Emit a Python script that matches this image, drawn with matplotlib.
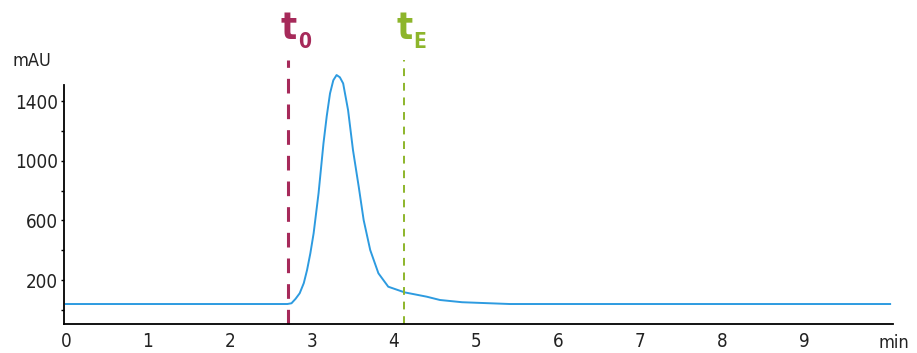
import matplotlib.pyplot as plt

# chromatogram trace
time_min = [0.0, 2.70, 2.75, 2.80, 2.85, 2.90, 2.94, 2.98, 3.02, 3.08, 3.14, 3.18,
            3.22, 3.26, 3.30, 3.34, 3.38, 3.44, 3.50, 3.57, 3.63, 3.71, 3.81,
            3.93, 4.13, 4.40, 4.56, 4.83, 5.41, 10.05]
absorb_mau = [40, 40, 45, 75, 112, 180, 268, 380, 514, 782, 1117, 1300,
              1452, 1540, 1575, 1560, 1519, 1340, 1072, 826, 603, 402, 246,
              156, 118, 89, 67, 52, 40, 40]

t0 = 2.71
t_end = 4.12
y_major = [200, 600, 1000, 1400]
y_minor = [0, 400, 800, 1200]
x_ticks = list(range(10))

BLUE = "#2D9BE0"
CRIMSON = "#A62A5A"
GREEN = "#8DB52B"
TXT = "#222222"

plt.rcParams["font.family"] = ["DejaVu Sans"]
plt.rcParams["font.stretch"] = "condensed"

fig = plt.figure(figsize=(9.17, 3.53), dpi=100)
ax = fig.add_axes([64 / 917, 29 / 353, 829 / 917, 284 / 353])

ax.plot(time_min, absorb_mau, color=BLUE, lw=1.4)

ax.plot([t0, t0], [-94, 1676], color=CRIMSON, lw=2.2, dashes=(4.8, 3.6), clip_on=False)
ax.plot([t_end, t_end], [-94, 1676], color=GREEN, lw=1.4, dashes=(4.0, 3.5), clip_on=False)

ax.set_xlim(-0.024, 10.085)
ax.set_ylim(-94, 1810)

for s in ["top", "right"]:
    ax.spines[s].set_visible(False)
ax.spines["left"].set_bounds(-94, 1508)
ax.spines["left"].set_linewidth(1.3)
ax.spines["bottom"].set_linewidth(1.3)

ax.set_yticks(y_major)
ax.set_yticks(y_minor, minor=True)
ax.set_yticklabels([str(v) for v in y_major], fontsize=13.5, color=TXT, stretch="condensed")
ax.tick_params(axis="y", which="both", length=2.5, width=1, pad=2, direction="out")
ax.set_xticks(x_ticks)
ax.set_xticklabels([str(v) for v in x_ticks], fontsize=13.5, color=TXT, stretch="condensed")
ax.tick_params(axis="x", length=0, pad=6)

fig.text(12 / 917, 1 - 61 / 353, "mAU", fontsize=13, color=TXT, va="center", ha="left")
fig.text(879 / 917, 1 - 343 / 353, "min", fontsize=13, color=TXT, va="center", ha="left")

# t0 and tE markers
fig.text(289 / 917, 1 - 29 / 353, "t", fontsize=27, fontweight="bold", color=CRIMSON,
         ha="center", va="center")
fig.text(305 / 917, 1 - 42 / 353, "0", fontsize=15, fontweight="bold", color=CRIMSON,
         ha="center", va="center")
fig.text(405 / 917, 1 - 29 / 353, "t", fontsize=27, fontweight="bold", color=GREEN,
         ha="center", va="center")
fig.text(420 / 917, 1 - 42 / 353, "E", fontsize=15, fontweight="bold", color=GREEN,
         ha="center", va="center")

fig.savefig("out.png", dpi=100, facecolor="white")
